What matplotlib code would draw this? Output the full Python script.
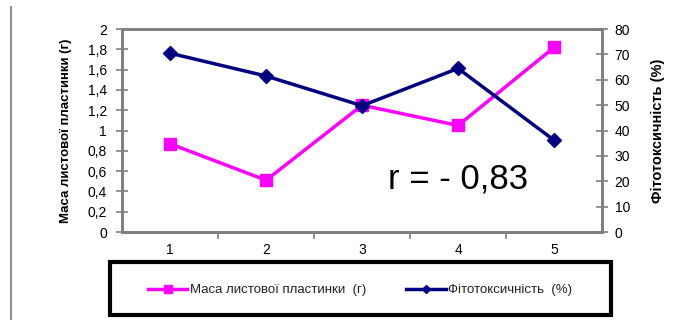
import matplotlib.pyplot as plt
import matplotlib.ticker as mticker
from matplotlib.patches import Rectangle

plt.rcParams['font.family'] = ['Liberation Sans', 'DejaVu Sans']

samples = [1, 2, 3, 4, 5]
mass = [0.87, 0.51, 1.25, 1.05, 1.82]          # g
phyto = [70.5, 61.5, 49.8, 64.5, 36.2]         # %
ticks_mass = [0, 0.2, 0.4, 0.6, 0.8, 1, 1.2, 1.4, 1.6, 1.8, 2]
ticks_phyto = [0, 10, 20, 30, 40, 50, 60, 70, 80]

label_mass = 'Маса листової пластинки (г)'
label_phyto = 'Фітотоксичність (%)'
legend_mass = 'Маса листової пластинки  (г)'
legend_phyto = 'Фітотоксичність  (%)'
r_text = 'r = - 0,83'

pink = '#FF00FF'
navy = '#000080'
axis_grey = '#808080'


def comma_fmt(v, pos):
    s = ('%g' % v)
    return s.replace('.', ',')


fig = plt.figure(figsize=(6.78, 3.2), dpi=100)
ax = fig.add_axes([0.180, 0.275, 0.708, 0.634])
ax2 = ax.twinx()

l1, = ax.plot(samples, mass, color=pink, lw=2.5, marker='s', ms=9,
              label=legend_mass, zorder=3)
l2, = ax2.plot(samples, phyto, color=navy, lw=2.5, marker='D', ms=7,
               label=legend_phyto, zorder=3)

ax.set_xlim(0.5, 5.5)
ax.set_ylim(0, 2)
ax2.set_ylim(0, 80)
ax.set_yticks(ticks_mass)
ax2.set_yticks(ticks_phyto)
ax.yaxis.set_major_formatter(mticker.FuncFormatter(comma_fmt))

# category axis: tick marks between categories, labels at the centres
ax.set_xticks([1.5, 2.5, 3.5, 4.5])
ax.xaxis.set_major_formatter(mticker.NullFormatter())
ax.set_xticks(samples, minor=True)
ax.set_xticklabels([str(s) for s in samples], minor=True)
ax.tick_params(axis='x', which='minor', length=0, pad=8, labelsize=10)
ax.tick_params(axis='x', which='major', direction='out', length=5,
               width=1.2, color=axis_grey)

ax.tick_params(axis='y', direction='inout', length=8, width=1.2,
               color=axis_grey, labelsize=10, pad=7)
ax2.tick_params(axis='y', direction='inout', length=8, width=1.2,
                color=axis_grey, labelsize=10, pad=5)

for a in (ax, ax2):
    for sp in a.spines.values():
        sp.set_color(axis_grey)
        sp.set_linewidth(2)

ax.set_ylabel(label_mass, fontsize=9.5, fontweight='bold', labelpad=11)
ax2.set_ylabel(label_phyto, fontsize=10.5, fontweight='bold', labelpad=15)

ax.text(0.555, 0.26, r_text, transform=ax.transAxes, fontsize=25,
        ha='left', va='center')

# legend box below the chart
fig.patches.append(Rectangle((110 / 678, 1 - 315 / 320), 501 / 678, 53 / 320,
                             transform=fig.transFigure, fill=False,
                             edgecolor='black', linewidth=3))
leg = fig.legend(handles=[l1, l2], loc='center',
                 bbox_to_anchor=(360 / 678, 1 - 290 / 320), ncol=2,
                 frameon=False, fontsize=9.5, handlelength=3.0,
                 handletextpad=0.2, columnspacing=3.0, markerscale=0.6)
for t in leg.get_texts():
    t.set_color('#222222')

# thin vertical rule at the left edge
fig.add_artist(plt.Line2D([11 / 678, 11 / 678], [0, 1 - 7 / 320],
                          transform=fig.transFigure, color='#909090', lw=1.5))

fig.savefig('out.png', dpi=100)
